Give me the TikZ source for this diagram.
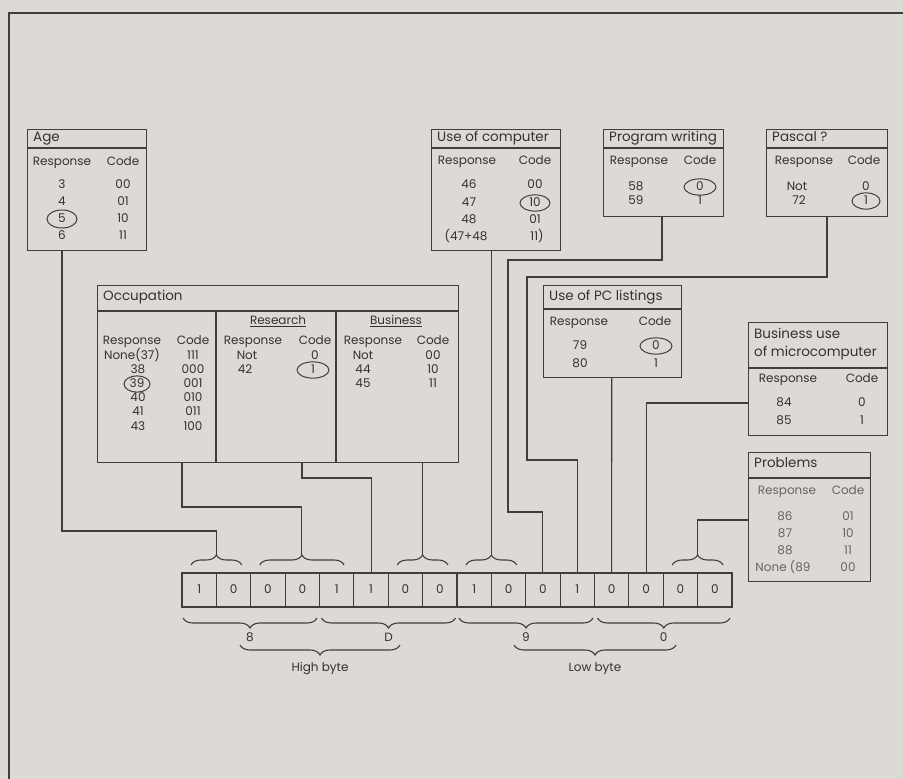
\documentclass[tikz,border=0pt]{standalone}
\usepackage{fontspec}
\setmainfont{Poppins}
\usetikzlibrary{shapes.geometric,decorations.pathreplacing,calc}
\definecolor{bg}{RGB}{221,218,214}
\definecolor{ink}{RGB}{62,62,62}
\definecolor{inkt}{RGB}{50,50,50}
\definecolor{faded}{RGB}{100,100,100}
\begin{document}
\begin{tikzpicture}[x=1pt,y=-1pt,
  font=\fontsize{12}{14}\selectfont,
  frame/.style={draw=ink,line width=1.1pt,inner sep=0pt,anchor=north west},
  t/.style={inner sep=0pt,text height=9pt,text depth=2.5pt,text=inkt},
  tl/.style={t,anchor=west},
  ttl/.style={t,anchor=west,font=\fontsize{13.5}{15}\selectfont},
  circled/.style={t,draw=ink,line width=1pt,ellipse,minimum width=30pt,minimum height=15pt},
  wire/.style={draw=ink,line width=1.1pt},
  bit/.style={draw=ink,line width=1.1pt,minimum width=34.375pt,minimum height=34pt,inner sep=0pt,text height=9pt,text depth=2.5pt,text=inkt},
  ubrace/.style={draw=ink,line width=1.1pt,decorate,decoration={brace,amplitude=10pt}},
  dbrace/.style={draw=ink,line width=1.1pt,decorate,decoration={brace,amplitude=10pt,mirror}},
  fd/.style={t,text=faded}
]
\fill[bg] (0,0) rectangle (903,779);
\useasboundingbox (0,0) rectangle (903,779);
\draw[wire] (903,13) -- (9,13) -- (9,779);

% ---------------- Age
\node[frame,minimum width=119pt,minimum height=121pt] (age) at (27,129) {};
\draw[wire] (27,148) -- (146,148);
\node[ttl] (agetitle) at (33,138) {Age};
\node[t] (ageresp) at (62,162) {Response};
\node[t] (agecode) at (123,162) {Code};
\node[t] (a1) at (62,185) {3};   \node[t] (a2) at (123,185) {00};
\node[t] (a3) at (62,202) {4};   \node[t] (a4) at (123,202) {01};
\node[circled,minimum width=30pt,minimum height=18pt] (a5) at (62,219) {5};
\node[t] (a6) at (123,219) {10};
\node[t] (a7) at (62,236) {6};   \node[t] (a8) at (123,236) {11};

% ---------------- Occupation
\node[frame,minimum width=361pt,minimum height=177pt] (occ) at (97,285) {};
\draw[wire] (97,311) -- (458,311);
\draw[wire] (216,311) -- (216,462);
\draw[wire] (336,311) -- (336,462);
\node[ttl] (occtitle) at (103,297) {Occupation};
\node[t] (occres) at (278,321) {\underline{Research}};
\node[t] (occbus) at (396,321) {\underline{Business}};
\node[t] (o1) at (132,341) {Response}; \node[t] (o2) at (193,341) {Code};
\node[t] (o3) at (253,341) {Response}; \node[t] (o4) at (315,341) {Code};
\node[t] (o5) at (373,341) {Response}; \node[t] (o6) at (433,341) {Code};
\node[t] (l1) at (132,356) {None(37)}; \node[t] (c1) at (193,356) {111};
\node[t] (l2) at (138,370) {38};       \node[t] (c2) at (193,370) {000};
\node[circled,minimum width=26pt,minimum height=15pt] (l3) at (137,384) {39};
\node[t] (c3) at (193,384) {001};
\node[t] (l4) at (138,398) {40};       \node[t] (c4) at (193,398) {010};
\node[t] (l5) at (138,412) {41};       \node[t] (c5) at (193,412) {011};
\node[t] (l6) at (138,427) {43};       \node[t] (c6) at (193,427) {100};
\node[t] (r1) at (247,356) {Not};      \node[t] (rc1) at (315,356) {0};
\node[t] (r2) at (245,370) {42};
\node[circled,minimum width=32pt,minimum height=15pt] (rc2) at (313,370) {1};
\node[t] (s1) at (363,356) {Not};      \node[t] (sc1) at (433,356) {00};
\node[t] (s2) at (363,370) {44};       \node[t] (sc2) at (433,370) {10};
\node[t] (s3) at (363,384) {45};       \node[t] (sc3) at (433,384) {11};

% ---------------- Use of computer
\node[frame,minimum width=129pt,minimum height=121pt] (uoc) at (431,129) {};
\draw[wire] (431,148) -- (560,148);
\node[ttl] (uoctitle) at (437,138) {Use of computer};
\node[t] (u1) at (467,161) {Response}; \node[t] (u2) at (535,161) {Code};
\node[t] (u3) at (469,185) {46};  \node[t] (u4) at (535,185) {00};
\node[t] (u5) at (469,203) {47};
\node[circled,minimum width=30pt,minimum height=15pt] (u6) at (535,203) {10};
\node[t] (u7) at (469,220) {48};  \node[t] (u8) at (535,220) {01};
\node[t] (u9) at (466,237) {(47+48}; \node[t] (u10) at (537,237) {11)};

% ---------------- Program writing
\node[frame,minimum width=120pt,minimum height=87pt] (pw) at (603,129) {};
\draw[wire] (603,148) -- (723,148);
\node[ttl] (pwtitle) at (609,138) {Program writing};
\node[t] (p1) at (639,161) {Response}; \node[t] (p2) at (700,161) {Code};
\node[t] (p3) at (636,187) {58};
\node[circled,minimum width=32pt,minimum height=15pt] (p4) at (700,187) {0};
\node[t] (p5) at (636,201) {59};  \node[t] (p6) at (700,201) {1};

% ---------------- Pascal
\node[frame,minimum width=121pt,minimum height=87pt] (pas) at (766,129) {};
\draw[wire] (766,148) -- (887,148);
\node[ttl] (pastitle) at (772,138) {Pascal ?};
\node[t] (q1) at (804,161) {Response}; \node[t] (q2) at (864,161) {Code};
\node[t] (q3) at (797,187) {Not}; \node[t] (q4) at (866,187) {0};
\node[t] (q5) at (799,201) {72};
\node[circled,minimum width=28pt,minimum height=15pt] (q6) at (866,201) {1};

% ---------------- Use of PC listings
\node[frame,minimum width=138pt,minimum height=92pt] (pcl) at (543,285) {};
\draw[wire] (543,309) -- (681,309);
\node[ttl] (pcltitle) at (549,297) {Use of PC listings};
\node[t] (k1) at (579,322) {Response}; \node[t] (k2) at (655,322) {Code};
\node[t] (k3) at (580,346) {79};
\node[circled,minimum width=32pt,minimum height=16pt] (k4) at (656,346) {0};
\node[t] (k5) at (580,364) {80};  \node[t] (k6) at (656,364) {1};

% ---------------- Business use of microcomputer
\node[frame,minimum width=139pt,minimum height=113pt] (bus) at (748,322) {};
\draw[wire] (748,368) -- (887,368);
\node[ttl] (bustitle1) at (754,335) {Business use};
\node[ttl] (bustitle2) at (754,353) {of microcomputer};
\node[t] (m1) at (788,379) {Response}; \node[t] (m2) at (862,379) {Code};
\node[t] (m3) at (784,403) {84};  \node[t] (m4) at (862,403) {0};
\node[t] (m5) at (784,421) {85};  \node[t] (m6) at (862,421) {1};

% ---------------- Problems
\node[frame,minimum width=122pt,minimum height=129pt] (prob) at (748,452) {};
\draw[wire] (748,478) -- (870,478);
\node[ttl] (probtitle) at (754,464) {Problems};
\node[fd] (n1) at (787,491) {Response}; \node[fd] (n2) at (848,491) {Code};
\node[fd] (n3) at (785,517) {86};       \node[fd] (n4) at (848,517) {01};
\node[fd] (n5) at (785,534) {87};       \node[fd] (n6) at (848,534) {10};
\node[fd] (n7) at (785,551) {88};       \node[fd] (n8) at (848,551) {11};
\node[fd] (n9) at (783,568) {None (89}; \node[fd] (n10) at (848,568) {00};

% ---------------- bit row
\foreach \v [count=\i from 0] in {1,0,0,0,1,1,0,0,1,0,0,1,0,0,0,0}
  \node[bit] (b\i) at ({182+34.375*(\i+0.5)},590) {\v};

% upper braces
\draw[ubrace] (191,565) -- (241.75,565);
\draw[ubrace] (259.75,565) -- (344.1,565);
\draw[ubrace] (397.25,565) -- (448,565);
\draw[ubrace] (466,565) -- (516.75,565);
\draw[ubrace] (672.25,565) -- (723,565);
\coordinate (tipA) at (216.4,555);
\coordinate (tipO) at (301.9,555);
\coordinate (tipB) at (422.6,555);
\coordinate (tipU) at (491.4,555);
\coordinate (tipP) at (697.6,555);

% lower braces
\draw[dbrace] (183,618) -- (317,618);
\draw[dbrace] (321.5,618) -- (455.5,618);
\draw[dbrace] (459,618) -- (593,618);
\draw[dbrace] (597.5,618) -- (730,618);
\node[t] (h8) at (250,638) {8};
\node[t] (hD) at (388.5,638) {D};
\node[t] (h9) at (526,638) {9};
\node[t] (h0) at (663.75,638) {0};
\draw[dbrace] (240,645) -- (400,645);
\draw[dbrace] (514,645) -- (676,645);
\node[t] (hb) at (320,668) {High byte};
\node[t] (lb) at (595,668) {Low byte};

% ---------------- connectors
\coordinate (ageout) at (62,250);
\coordinate (occout) at (182,462);
\coordinate (resout) at (302,462);
\coordinate (bzout) at (422.6,462);
\coordinate (uocout) at (491.4,250);
\coordinate (pwout) at (662,216);
\coordinate (pasout) at (827,216);
\coordinate (pclout) at (611.7,377);
\coordinate (busout) at (748,403);
\coordinate (probout) at (748,520);

\draw[wire] (ageout) -- ++(0,281) -| (tipA);
\draw[wire] (occout) -- ++(0,45) -| (tipO);
\draw[wire] (resout) -- ++(0,16) -| (b5.north);
\draw[wire] (bzout) -- (tipB);
\draw[wire] (uocout) -- (tipU);
\draw[wire] (pwout) -- ++(0,44) -- ++(-154,0) -- ++(0,252) -| (b10.north);
\draw[wire] (pasout) -- ++(0,61) -- ++(-300,0) -- ++(0,183) -| (b11.north);
\draw[wire] (pclout) -- (b12.north);
\draw[wire] (busout) -| (b13.north);
\draw[wire] (probout) -| (tipP);
\end{tikzpicture}
\end{document}
